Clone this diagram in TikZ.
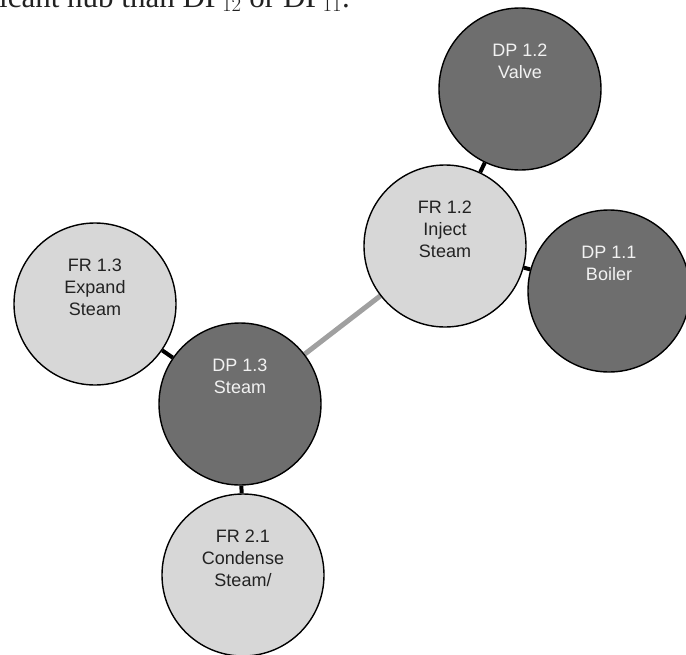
\documentclass[tikz,border=0pt]{standalone}
\usepackage{fontspec}
\setmainfont{Liberation Sans}
\newfontfamily\serifx{Liberation Serif}
\usetikzlibrary{backgrounds,calc}
\definecolor{lightfill}{HTML}{D7D7D7}
\definecolor{darkfill}{HTML}{6E6E6E}
\definecolor{darktext}{HTML}{222222}
\definecolor{lighttext}{HTML}{F2F2F2}
\definecolor{hubline}{HTML}{A0A0A0}
\tikzset{
  bubble/.style={circle, draw=black, line width=1.4pt, inner sep=0pt, minimum size=162pt},
  frbubble/.style={bubble, fill=lightfill},
  dpbubble/.style={bubble, fill=darkfill},
  lbl/.style={anchor=north, inner sep=0pt, align=center, font=\fontsize{18}{22}\selectfont},
  frlbl/.style={lbl, text=darktext},
  dplbl/.style={lbl, text=lighttext},
  link/.style={line width=4pt, black},
  hublink/.style={line width=5pt, hubline}
}
\begin{document}
\begin{tikzpicture}[x=1pt, y=-1pt]
\useasboundingbox (0,0) rectangle (686,654);
\clip (0,0) rectangle (686,654);
% top caption (cropped as in the reference)
\node[anchor=base west, inner sep=0pt, text=darktext, font=\serifx\fontsize{31}{36}\selectfont] (cap) at (-1,7) {icant hub than DP$_{12}$ or DP$_{11}$.};
% bubbles
\node[dpbubble] (dp12) at (520,89) {};
\node[frbubble] (fr12) at (445,246) {};
\node[dpbubble] (dp11) at (609,291) {};
\node[frbubble] (fr13) at (95,304) {};
\node[dpbubble] (dp13) at (240,404) {};
\node[frbubble] (fr21) at (243,575) {};
% labels
\node[dplbl] (t12) at ($(dp12)+(0,-45)$) {DP 1.2\\Valve};
\node[frlbl] (tf12) at ($(fr12)+(0,-45)$) {FR 1.2\\Inject\\Steam};
\node[dplbl] (t11) at ($(dp11)+(0,-45)$) {DP 1.1\\Boiler};
\node[frlbl] (tf13) at ($(fr13)+(0,-45)$) {FR 1.3\\Expand\\Steam};
\node[dplbl] (t13) at ($(dp13)+(0,-45)$) {DP 1.3\\Steam};
\node[frlbl] (tf21) at ($(fr21)+(0,-45)$) {FR 2.1\\Condense\\Steam/};
% connectors
\begin{scope}[on background layer]
\draw[link] (dp12) -- (fr12);
\draw[link] (fr12) -- (dp11);
\draw[link] (fr13) -- (dp13);
\draw[link] (dp13) -- (fr21);
\draw[hublink] (dp13) -- (fr12);
\end{scope}
\end{tikzpicture}
\end{document}
